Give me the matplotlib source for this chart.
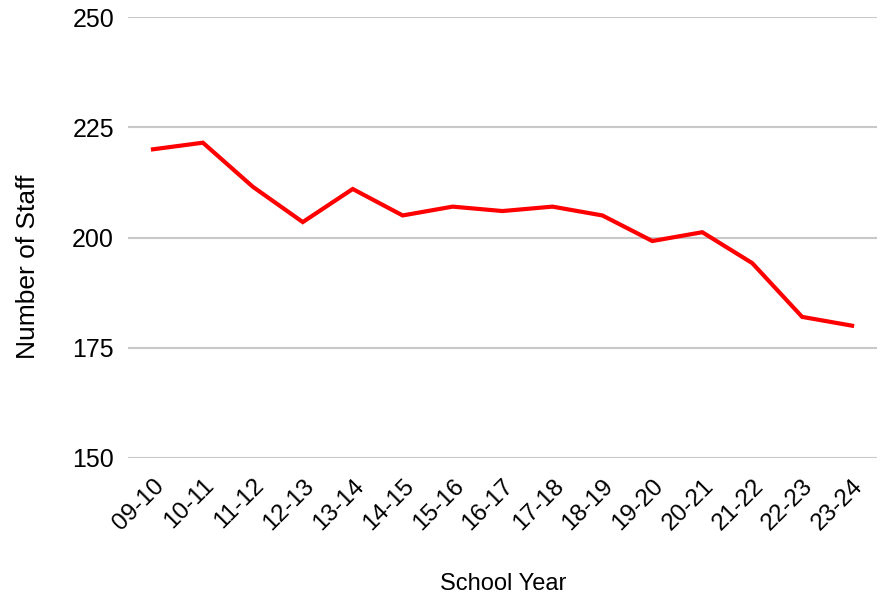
import matplotlib.pyplot as plt

# School years and staff counts
years = ['09-10', '10-11', '11-12', '12-13', '13-14', '14-15', '15-16', '16-17',
         '17-18', '18-19', '19-20', '20-21', '21-22', '22-23', '23-24']
staff = [220, 221.5, 211.5, 203.5, 211, 205, 207, 206, 207, 205, 199.2, 201.2, 194.2, 182, 180]
y_ticks = [150, 175, 200, 225, 250]

plt.rcParams['font.family'] = ['Liberation Sans', 'DejaVu Sans']

fig = plt.figure(figsize=(8.81, 5.99), dpi=100)
ax = fig.add_axes([0.1453, 0.2354, 0.8502, 0.7362])

x = range(len(years))
ax.plot(x, staff, color='#ff0000', linewidth=3, solid_joinstyle='miter')

ax.set_xlim(-0.5, len(years) - 0.5)
ax.set_ylim(150, 250)
ax.set_yticks(y_ticks)
ax.set_yticklabels([str(v) for v in y_ticks], fontsize=18)
ax.set_xticks(list(x))
ax.set_xticklabels(years, fontsize=17.5, rotation=45, ha='right', rotation_mode='anchor')
ax.tick_params(axis='both', length=0, colors='black')
ax.tick_params(axis='y', pad=10)
ax.tick_params(axis='x', pad=12)

ax.grid(axis='y', color='#c8c8c8', linewidth=1.5)
ax.set_axisbelow(True)
for s in ax.spines.values():
    s.set_visible(False)

fig.text(0.032, 0.555, 'Number of Staff', rotation=90, ha='center', va='center', fontsize=19)
fig.text(0.571, 0.025, 'School Year', ha='center', va='center', fontsize=17)

fig.savefig('out.png', dpi=100)
